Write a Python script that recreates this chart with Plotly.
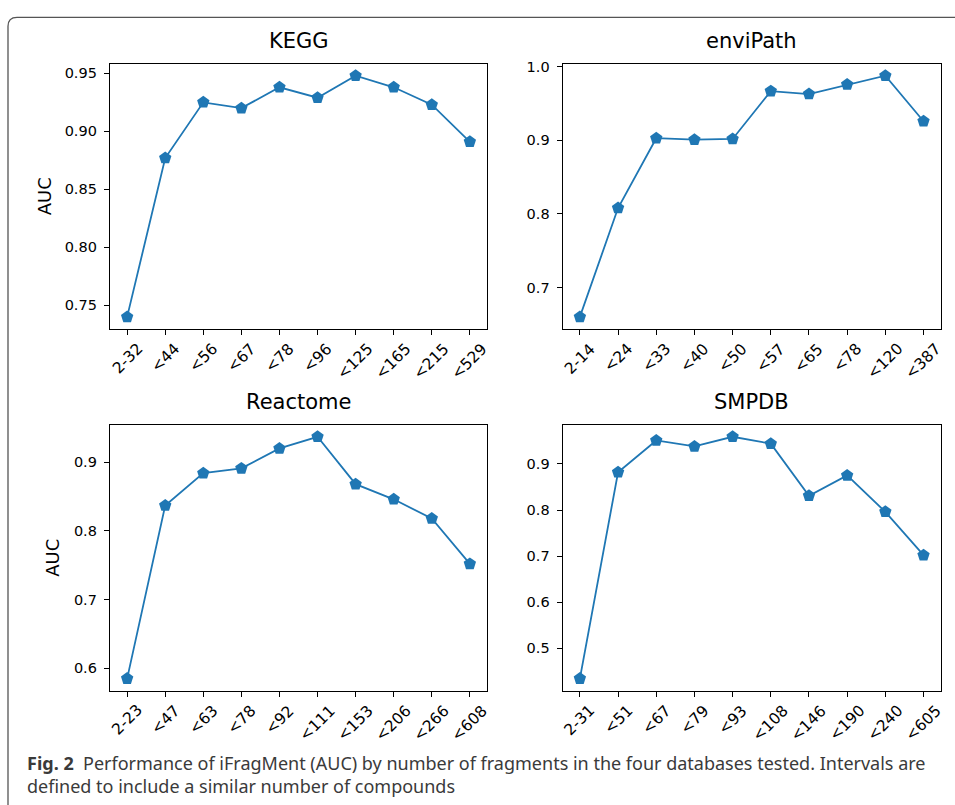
import plotly.graph_objects as go

# ---------------- data ----------------
kegg_labels = ["2-32", "<44", "<56", "<67", "<78", "<96", "<125", "<165", "<215", "<529"]
kegg_auc = [0.740, 0.877, 0.925, 0.920, 0.938, 0.929, 0.948, 0.938, 0.923, 0.891]

envi_labels = ["2-14", "<24", "<33", "<40", "<50", "<57", "<65", "<78", "<120", "<387"]
envi_auc = [0.660, 0.808, 0.903, 0.901, 0.902, 0.967, 0.963, 0.976, 0.988, 0.926]

reac_labels = ["2-23", "<47", "<63", "<78", "<92", "<111", "<153", "<206", "<266", "<608"]
reac_auc = [0.585, 0.837, 0.884, 0.891, 0.920, 0.937, 0.868, 0.846, 0.818, 0.752]

smp_labels = ["2-31", "<51", "<67", "<79", "<93", "<108", "<146", "<190", "<240", "<605"]
smp_auc = [0.434, 0.882, 0.951, 0.938, 0.959, 0.944, 0.831, 0.875, 0.796, 0.702]

titles = ["KEGG", "enviPath", "Reactome", "SMPDB"]
ytick_steps = [0.05, 0.1, 0.1, 0.1]
ytick_formats = [".2f", ".1f", ".1f", ".1f"]
ylabel = "AUC"
caption_bold = "Fig. 2"
caption_line1 = "Performance of iFragMent (AUC) by number of fragments in the four databases tested. Intervals are"
caption_line2 = "defined to include a similar number of compounds"

# ---------------- layout geometry ----------------
W, H = 955, 805
def px_x(x):
    return x / W
def px_y(y):
    return 1 - y / H

col_x = [(110, 487), (562.7, 940.7)]
row_y = [(59, 326), (422.3, 690)]
ylabel_x = [44, 53]

panels = [
    (kegg_labels, kegg_auc, 0, 0),
    (envi_labels, envi_auc, 0, 1),
    (reac_labels, reac_auc, 1, 0),
    (smp_labels, smp_auc, 1, 1),
]

fig = go.Figure()
FONT = "DejaVu Sans"
BLUE = "#1f77b4"
annotations = []

for i, (labels, vals, r, c) in enumerate(panels):
    n = i + 1
    xa = "x" if n == 1 else f"x{n}"
    ya = "y" if n == 1 else f"y{n}"
    xs = list(range(len(labels)))
    fig.add_trace(go.Scatter(
        x=xs, y=vals, mode="lines+markers", xaxis=xa, yaxis=ya,
        line=dict(color=BLUE, width=1.8),
        marker=dict(symbol="pentagon", size=13, color=BLUE),
        showlegend=False, hoverinfo="skip",
    ))
    lo, hi = min(vals), max(vals)
    pad = 0.05 * (hi - lo)
    x0, x1 = col_x[c]
    yt, yb = row_y[r]
    axis_common = dict(
        showline=True, linecolor="black", linewidth=1.3, mirror=True,
        ticks="outside", ticklen=5, tickwidth=1.2, tickcolor="black",
        showgrid=False, zeroline=False,
        tickfont=dict(family=FONT, size=14.5, color="black"),
    )
    fig.layout[("xaxis" if n == 1 else f"xaxis{n}")] = dict(
        axis_common, domain=[px_x(x0), px_x(x1)], anchor=ya,
        range=[-0.45, len(labels) - 1 + 0.45],
        tickmode="array", tickvals=xs, showticklabels=False,
    )
    fig.layout[("yaxis" if n == 1 else f"yaxis{n}")] = dict(
        axis_common, domain=[px_y(yb), px_y(yt)], anchor=xa,
        range=[lo - pad, hi + pad], dtick=ytick_steps[i], tick0=0,
        tickformat=ytick_formats[i], ticklabelstandoff=4,
    )
    if c == 0:
        annotations.append(dict(
            x=px_x(ylabel_x[r]), xref="paper", y=px_y((yt + yb) / 2), yref="paper",
            text=ylabel, showarrow=False, textangle=-90,
            xanchor="center", yanchor="middle",
            font=dict(family=FONT, size=18, color="black"),
        ))

    # rotated category labels, centred under each tick
    for k, lab in enumerate(labels):
        annotations.append(dict(
            x=k, xref=xa, y=px_y(yb), yref="paper",
            text=lab.replace("<", "&lt;"), showarrow=False, textangle=-45,
            xanchor="center", yanchor="top", yshift=-8,
            font=dict(family=FONT, size=15.5, color="black"),
        ))
    # panel title
    annotations.append(dict(
        x=px_x((x0 + x1) / 2), xref="paper", y=px_y(yt - 23), yref="paper",
        text=titles[i], showarrow=False, xanchor="center", yanchor="middle",
        font=dict(family=FONT, size=21, color="black"),
    ))

# caption
annotations.append(dict(
    x=px_x(25), xref="paper", y=px_y(774), yref="paper",
    text=f"<b>{caption_bold}</b>  {caption_line1}<br>{caption_line2}",
    showarrow=False, xanchor="left", yanchor="middle", align="left",
    font=dict(family="Noto Sans", size=18, color="#3a3a3a"),
))

# rounded outer frame
r_c = 9
path = (f"M {px_x(8)},{px_y(H + 5)} L {px_x(8)},{px_y(12.5 + r_c)} "
        f"Q {px_x(8)},{px_y(12.5)} {px_x(8 + r_c)},{px_y(12.5)} L {px_x(W + 5)},{px_y(12.5)}")
fig.add_shape(type="path", path=path, xref="paper", yref="paper",
              line=dict(color="#555555", width=1.3))

fig.update_layout(
    width=W, height=H, margin=dict(l=0, r=0, t=0, b=0),
    paper_bgcolor="white", plot_bgcolor="white",
    annotations=annotations,
)

fig.write_html("out.html")
